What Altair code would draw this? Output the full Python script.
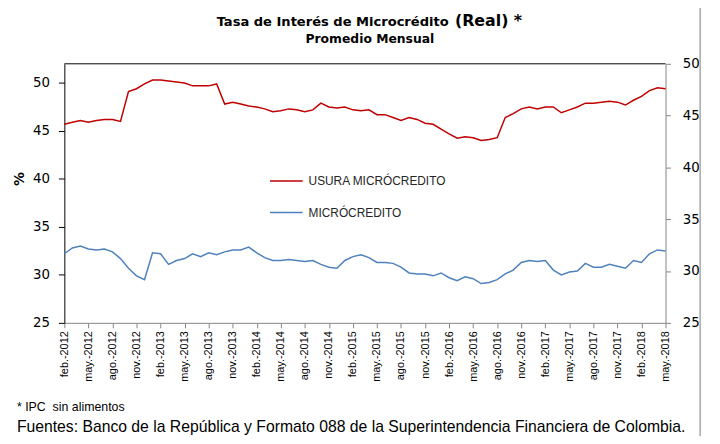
import altair as alt
import pandas as pd

# ---- categories (monthly, feb-2012 .. may-2018) ----
abrev = ["ene.", "feb.", "mar.", "abr.", "may.", "jun.", "jul.", "ago.", "sep.", "oct.", "nov.", "dic."]
meses = []
yy, mm = 2012, 2
while (yy, mm) <= (2018, 5):
    meses.append(f"{abrev[mm - 1]}-{yy}")
    mm += 1
    if mm > 12:
        mm, yy = 1, yy + 1
ticks_x = meses[::3]

series = ["USURA MICRÓCREDITO", "MICRÓCREDITO"]
colores = ["#C00000", "#4F81BD"]

usura = [45.7, 45.9, 46.1, 45.9, 46.1, 46.2, 46.2, 46.0, 49.1, 49.4,
         49.9, 50.3, 50.3, 50.2, 50.1, 50.0, 49.7, 49.7, 49.7, 49.9,
         47.8, 48.0, 47.8, 47.6, 47.5, 47.3, 47.0, 47.1, 47.3, 47.2,
         47.0, 47.2, 47.9, 47.5, 47.4, 47.5, 47.2, 47.1, 47.2, 46.7,
         46.7, 46.4, 46.1, 46.4, 46.2, 45.8, 45.7, 45.2, 44.7, 44.25,
         44.4, 44.3, 44.0, 44.1, 44.3, 46.4, 46.8, 47.3, 47.5, 47.3,
         47.5, 47.5, 46.9, 47.2, 47.5, 47.9, 47.9, 48.0, 48.1, 48.0,
         47.7, 48.2, 48.6, 49.2, 49.5, 49.4]

micro = [32.2, 32.8, 33.0, 32.7, 32.6, 32.7, 32.4, 31.7, 30.7, 29.9,
         29.5, 32.3, 32.2, 31.1, 31.5, 31.7, 32.2, 31.9, 32.3, 32.1,
         32.4, 32.6, 32.6, 32.9, 32.3, 31.8, 31.5, 31.5, 31.6, 31.5,
         31.4, 31.5, 31.1, 30.8, 30.7, 31.5, 31.9, 32.1, 31.8, 31.3,
         31.3, 31.2, 30.8, 30.2, 30.1, 30.1, 29.9, 30.2, 29.7, 29.4,
         29.8, 29.6, 29.1, 29.2, 29.5, 30.1, 30.5, 31.3, 31.5, 31.4,
         31.5, 30.5, 30.0, 30.3, 30.4, 31.2, 30.8, 30.8, 31.1, 30.9,
         30.7, 31.5, 31.3, 32.2, 32.6, 32.5]

ticks_left = [25, 30, 35, 40, 45, 50]
ticks_right = [25, 30, 35, 40, 45, 50]

titulo_a = "Tasa de Interés de Microcrédito"
titulo_b = "(Real) *"
subtitulo = "Promedio Mensual"
nota = "* IPC\u00a0 sin alimentos"
fuente = "Fuentes: Banco de la República y Formato 088 de la Superintendencia Financiera de Colombia."

df = pd.DataFrame({
    "mes": meses + meses,
    "serie": [series[0]] * len(meses) + [series[1]] * len(meses),
    "valor": usura + micro,
})

W, H = 608, 262

x_enc = alt.X(
    "mes:N", sort=meses,
    scale=alt.Scale(type="point", padding=0),
    axis=alt.Axis(values=ticks_x, title=None, labelAngle=270, labelAlign="right",
                  labelBaseline="middle", labelFont="Liberation Sans", labelFontSize=11,
                  labelColor="#000000", tickColor="#868686", domainColor="#868686",
                  tickSize=5, labelPadding=3, grid=False),
)

lines = alt.Chart(df).mark_line(strokeWidth=1.5).encode(
    x=x_enc,
    y=alt.Y("valor:Q",
            scale=alt.Scale(domain=[25, 52], nice=False, zero=False),
            axis=alt.Axis(values=ticks_left, title="%", grid=False,
                          labelFont="DejaVu Sans", labelFontSize=13.5, labelColor="#000000",
                          tickColor="#000000", domainColor="#000000", tickSize=6,
                          labelPadding=9, titleFont="DejaVu Sans", titleFontSize=14,
                          titleFontWeight="bold", titleColor="#000000", titleAngle=270,
                          titleAlign="center", titleBaseline="middle",
                          titleX=-45, titleY=116)),
    color=alt.Color("serie:N",
                    scale=alt.Scale(domain=series, range=colores),
                    legend=alt.Legend(title=None, orient="none", legendX=207, legendY=101,
                                      direction="vertical", symbolType="stroke",
                                      symbolSize=1089, symbolStrokeWidth=1.5,
                                      labelFont="Liberation Sans", labelFontSize=12,
                                      labelColor="#262626", labelOffset=5,
                                      rowPadding=8, padding=0)),
)

right_axis = alt.Chart(df).mark_line(strokeOpacity=0).encode(
    x=x_enc,
    detail="serie:N",
    y=alt.Y("valor:Q",
            scale=alt.Scale(domain=[25, 50], nice=False, zero=False),
            axis=alt.Axis(orient="right", values=ticks_right, title=None, grid=False,
                          labelFont="DejaVu Sans", labelFontSize=13.5, labelColor="#000000",
                          tickColor="#868686", domainColor="#868686", tickSize=5,
                          labelPadding=12)),
)

dummy = pd.DataFrame({"k": [0]})

top_border = alt.Chart(dummy).mark_rule(color="#000000", strokeWidth=1).encode(
    x=alt.value(0), x2=alt.value(W), y=alt.value(0))
frame_right = alt.Chart(dummy).mark_rule(color="#a6a6a6", strokeWidth=1.5).encode(
    x=alt.value(643), y=alt.value(-62), y2=alt.value(400))


def texto(t, x, y, size, align="left", weight="normal", font="Liberation Sans"):
    return alt.Chart(pd.DataFrame({"t": [t]})).mark_text(
        align=align, baseline="middle", font=font, fontSize=size,
        fontWeight=weight, color="#000000"
    ).encode(text="t:N", x=alt.value(x), y=alt.value(y))


tit_a = texto(titulo_a, 154, -42, 13.2, align="left", weight="bold", font="DejaVu Sans")
tit_b = texto(titulo_b, 395, -43, 16, align="left", weight="bold", font="DejaVu Sans")
sub = texto(subtitulo, 309, -25, 12.5, align="center", weight="bold", font="DejaVu Sans")
nota_txt = texto(nota, -48, 347, 12.5)
fuente_txt = texto(fuente, -48, 367, 15.9)

chart = alt.layer(lines, right_axis, top_border, frame_right,
                  tit_a, tit_b, sub, nota_txt, fuente_txt).resolve_scale(
    y="independent"
).properties(
    width=W, height=H,
    autosize=alt.AutoSizeParams(type="none"),
    padding={"left": 57, "top": 54, "right": 47, "bottom": 112},
).configure_view(strokeWidth=0)

chart.save("out.html", embed_options={"renderer": "svg", "actions": False})
